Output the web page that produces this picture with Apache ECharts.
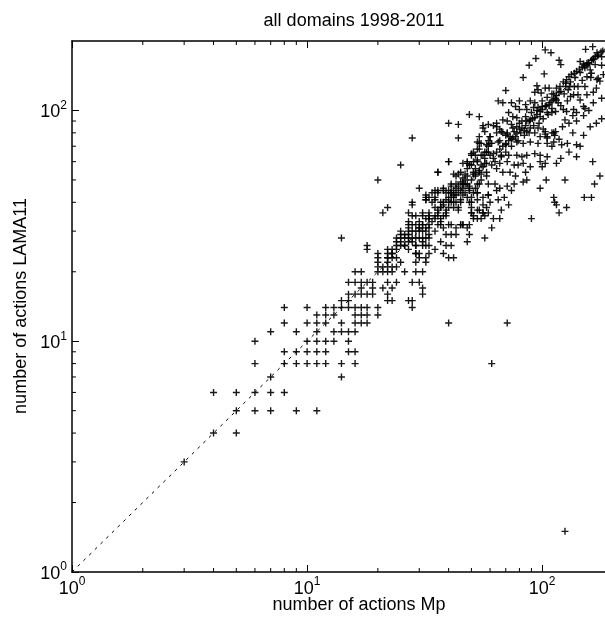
<!DOCTYPE html>
<html>
<head>
<meta charset="utf-8">
<script src="https://cdn.jsdelivr.net/npm/echarts@6/dist/echarts.min.js"></script>
<style>
  html, body { margin: 0; padding: 0; background: #fff; }
  #chart { width: 605px; height: 619px; }
</style>
</head>
<body>
<div id="chart"></div>
<script>
// values: [actions Mp, actions LAMA11]
const lowPts = [
  [3,3],[4,4],[5,4],[4,6],[5,6],[6,6],[7,6],[8,6],[5,5],[6,5],[7,5],[9,5],[11,5],
  [7,7],[14,7],
  [6,8],[8,8],[9,8],[10,8],[11,8],[12,8],[14,8],[16,8],
  [8,9],[9,9],[10,9],[11,9],[12,9],[15,9],[16,9],
  [6,10],[10,10],[11,10],[12,10],[13,10],[15,10],
  [7,11],[9,11],[11,11],[13,11],[14,11],[15,11],[16,11],
  [8,12],[10,12],[11,12],[12,12],[14,12],[16,12],[17,12],[18,12],
  [11,13],[12,13],[13,13],[16,13],[17,13],[18,13],[20,13],
  [8,14],[10,14],[12,14],[13,14],[14,14],[15,14],[16,14],[17,14],[18,14],[20,14],[28,14],
  [14,15],[15,15],[22,15],[23,15],[27,15],[28,15],
  [15,16],[16,16],[17,16],[18,16],[19,16],[22,16],[31,16],
  [17,17],[19,17],[21,17],[23,17],[31,17],
  [15,18],[16,18],[17,18],[18,18],[19,18],[22,18],[24,18],[28,18],[30,18],
  [16,20],[17,20],[20,20],[21,20],[22,20],[23,20],[26,20],[29,20],[31,20],
  [20,21],[21,21],[22,21],[23,21],[24,21],
  [20,22],[22,22],[25,22],[29,22],[32,22],
  [20,23],[22,23],[23,23],
  [20,24],[22,24],[23,24],[29,24],[30,24],
  [18,25],[22,25],[23,25],[24,25],
  [18,26],[24,26],[26,26],[29,26],[31,26],[32,26],
  [14,28],[25,28],[27,28],[29,28],[31,28],[33,28],
  [25,30],[27,30],[30,30],[32,30],
  [27,32],[29,32],[31,32],[33,32]
];

const midPts = [
  [28,76],[25,58],[20,50],[22,38],[21,36],[32,43],[32,41],[28,40],[28,39],
  [25,29],[26,29],[27,29],[28,28],[24,28],[25,27],[27,27],[28,27],[24,27],[25,26],
  [26,26],[27,25],[29,26],[31,27],[32,28],[33,29],[30,31],[31,32],[32,34],[33,34],
  [36,35],[23,24],[22,23],[24,23],[30,23],[32,23],[33,24],
  [27,36],[28,35],[27,33],[28,32],[29,35],[31,36],[32,42],[33,42],[35,42],[36,44],
  [38,46],[39,44],[40,45],[40,42],[41,40],[40,38],[41,47],[43,52],[44,53],[46,48],
  [47,48],[45,45],[46,43],[50,42],[50,40],[51,44],[53,44],[56,42],[59,43],[50,38],
  [54,37],[56,36],[45,32],[46,32],[41,32],[40,32],[48,31],[49,29],[57,28],[48,27],
  [39,29],[41,29],[43,29],[37,27],[39,26],[41,26],[33,26],[35,25],[38,24],[40,23],
  [42,23],[29,24],
  [33,34],[35,35],[36,36],[37,38],[38,39],[40,40],[41,44],[42,45],[44,47],[45,49],
  [46,51],[47,53],[48,56],[50,58],[51,60],[53,61],[55,64],[57,66],[59,70],[60,72],
  [53,73],[55,72],[59,74],[54,68],[58,66],[60,64],[50,64],[51,66],[53,68],
  [40,88],[44,87],[49,96],[54,94],[56,86],[44,76],[40,60],[36,54],[30,46],
  [48,59],[51,53],[34,44],[36,45],[34,40],[52,52],[55,53],[48,42],[50,36],[51,35],
  [57,35],[59,36],
  [30,28],[31,30],[33,31],[34,33],[35,30],[36,32],[37,33],[38,35],[39,36],[30,33],
  [29,30],[28,30],[27,31],[26,28],[35,38],[37,40],[39,41],[42,42],[43,40],[44,38],
  [42,43],[44,44],[46,46],[48,48],[50,50],[52,53],[54,55],[56,57],[58,59],[43,46],
  [47,50],[52,56],[55,58],[57,62],[45,40],[47,44],[49,46],[53,48],[55,50],[58,52]
];

const upperPts = [
  [103,183],[109,178],[153,184],[164,189],[171,178],[181,181],[179,171],
  [94,168],[118,165],[88,157],[120,158],
  [145,163],[150,159],[155,157],[157,161],[162,165],[165,168],[168,171],[173,174],
  [102,144],[83,139],[176,134],[173,138],[70,122],
  [95,128],[96,123],[93,120],[99,119],[103,125],[107,125],
  [115,125],[119,127],[123,133],[127,136],[130,140],[133,143],[137,145],[140,148],
  [144,151],[148,154],[151,156],[155,160],
  [126,131],[131,127],[137,127],[142,127],[152,127],[162,145],[161,139],[171,136],
  [129,123],[136,117],[142,117],[145,111],[155,117],[165,108],[179,113],
  [114,113],[115,111],[117,108],[123,101],[127,99],[136,101],[140,98],[150,104],[152,102],
  [110,102],[114,99],[107,106],[103,104],[105,98],
  [80,110],[85,106],[89,110],[93,108],[86,101],[92,103],[96,103],[100,104],
  [65,110],[68,108],[74,108],[77,104],[80,101],
  [72,98],[75,94],[78,93],[82,90],[86,90],[89,91],[93,93],[98,94],
  [68,91],[71,90],[74,87],[78,85],[80,83],[84,82],[89,84],
  [64,85],[66,83],[68,80],[71,79],[73,77],[77,77],
  [59,87],[62,86],[64,88],[56,84],[54,77],[60,77],
  [96,84],[101,83],[103,79],[98,77],[105,76],[112,80],[114,81],
  [125,91],[179,92],[182,143],[179,157],
  [62,62],[64,66],[66,68],[68,70],[70,71],[72,74],[75,76],[78,80],[82,84],[85,86],
  [88,90],[91,92],[95,96],[98,99],[100,101],[104,105],[108,108],[112,112],
  [63,60],[67,64],[70,66],[74,70],[79,74],[84,78],[88,80],[92,86],[97,88],[101,92],
  [106,96],[110,98],[66,74],[70,78],[75,84],[80,88],[85,94],[90,98],[95,100],[100,110],
  [105,114],[110,118],
  [110,110],[115,116],[120,121],[126,127],[132,133],[138,139],[145,146],[152,153],
  [158,159],[165,166],[172,172],[178,179],
  [110,70],[118,75],[122,85],[130,88],[135,95],[140,90],[150,95],[158,100],[165,120],
  [170,125],[120,105],[128,110],[132,115],[112,118],[118,120],[124,118],[148,135],
  [155,140],[160,150],[168,158],[120,62],[130,66],[140,63],[150,78],[160,85],[170,88],
  [135,80],[128,72]
];

const rightPts = [
  [57,81],[60,77],[64,80],[67,81],[71,80],[76,81],[81,80],[86,81],[93,80],[103,81],[105,77],[110,80],[113,78],
  [54,72],[58,71],[61,72],[65,73],[70,72],[74,75],[78,73],[83,72],[89,73],[96,72],[105,72],[112,73],[121,71],[140,71],[145,70],
  [50,65],[52,64],[56,64],[59,66],[62,65],[67,63],[72,64],[78,64],[82,63],[86,64],[93,65],[98,64],[105,63],
  [46,59],[48,60],[49,58],[53,60],[57,59],[61,58],[66,59],[71,60],[76,58],[79,58],[83,59],[89,57],[98,60],[103,59],[115,59],[164,60],
  [40,60],[36,54],[42,53],[45,54],[48,52],[51,54],[54,54],[58,54],[64,56],[68,54],[73,54],[77,52],[85,54],[86,50],[100,57],[104,50],[125,50],[176,52],
  [41,48],[43,48],[46,48],[49,47],[52,46],[54,48],[59,48],[63,48],[66,46],[71,47],[76,48],[83,49],[98,46],[167,48],
  [35,45],[38,45],[41,44],[43,43],[49,45],[53,44],[59,43],[64,45],[65,41],[69,42],[74,45],[112,42],[113,40],[151,42],[162,42],
  [32,41],[35,41],[38,40],[41,42],[42,40],[45,41],[49,40],[53,41],[56,39],[60,40],[67,37],[72,39],[115,39],[127,38],
  [33,36],[36,37],[37,38],[39,37],[42,38],[44,37],[50,36],[53,37],[56,36],[58,38],[118,36],
  [31,35],[33,35],[35,34],[37,34],[39,35],[45,32],[49,32],[51,34],[53,34],[55,34],[62,34],[66,34],[90,34],
  [30,31],[32,31],[37,32],[38,31],[43,31],[46,32],[61,31]
];

const outlierPts = [[40,12],[71,12],[61,8],[125,1.5]];

const diagonal = [[1,1],[200,200]];
const xMinor = [2,3,4,5,6,7,8,9,20,30,40,50,60,70,80,90];
const yMinor = [2,3,4,5,6,7,8,9,20,30,40,50,60,70,80,90];

const titleText = 'all domains 1998-2011';
const xName = 'number of actions Mp';
const yName = 'number of actions LAMA11';

const font = 'Liberation Sans, Arial, sans-serif';
const chart = echarts.init(document.getElementById('chart'));

function powLabel(v) {
  const e = Math.log10(v);
  if (Math.abs(e - Math.round(e)) > 1e-6) return '';
  return '{b|10}{s|' + Math.round(e) + '}';
}
const labelRich = {
  b: { fontSize: 18, fontFamily: font, color: '#000', lineHeight: 22, verticalAlign: 'bottom' },
  s: { fontSize: 12, fontFamily: font, color: '#000', lineHeight: 12, verticalAlign: 'top' }
};

const plus = 'path://M2.8,0H4.2V2.8H7V4.2H4.2V7H2.8V4.2H0V2.8H2.8Z';

const minorData = xMinor.map(v => [v, 1, 0]).concat(yMinor.map(v => [1, v, 1]));

// the picture cuts the plot off at x ~ 185
const xMax = 185;

const option = {
  animation: false,
  backgroundColor: '#fff',
  grid: { left: 72, top: 41, right: 0, bottom: 47 },
  xAxis: [
    {
      type: 'log', logBase: 10, min: 1, max: xMax,
      axisLine: { lineStyle: { color: '#000', width: 1.5 } },
      axisTick: { inside: true, length: 7, lineStyle: { color: '#000' } },
      axisLabel: { formatter: powLabel, rich: labelRich, margin: 4, showMaxLabel: false },
      splitLine: { show: false }
    },
    {
      type: 'log', logBase: 10, min: 1, max: xMax, position: 'top',
      axisLine: { lineStyle: { color: '#000', width: 1.5 } },
      axisTick: { inside: true, length: 7, lineStyle: { color: '#000' } },
      axisLabel: { show: false },
      splitLine: { show: false }
    }
  ],
  yAxis: {
    type: 'log', logBase: 10, min: 1, max: 200,
    axisLine: { lineStyle: { color: '#000', width: 1.5 } },
    axisTick: { inside: true, length: 7, lineStyle: { color: '#000' } },
    axisLabel: { formatter: powLabel, rich: labelRich, margin: 5, showMaxLabel: false },
    splitLine: { show: false }
  },
  series: [
    {
      type: 'line',
      data: diagonal,
      showSymbol: false,
      silent: true,
      lineStyle: { color: '#000', width: 1, type: [3, 5] }
    },
    {
      type: 'scatter',
      data: lowPts.concat(midPts, upperPts, rightPts, outlierPts),
      symbol: plus,
      symbolSize: 7,
      itemStyle: { color: '#000', opacity: 0.9 }
    },
    {
      // minor ticks at 2..9 of each decade
      type: 'custom',
      data: minorData,
      clip: false,
      silent: true,
      renderItem: function (params, api) {
        const style = { stroke: '#000', lineWidth: 1 };
        if (api.value(2) === 0) {
          const p = api.coord([api.value(0), 1]);
          const q = api.coord([api.value(0), 200]);
          return {
            type: 'group',
            children: [
              { type: 'line', shape: { x1: p[0], y1: p[1], x2: p[0], y2: p[1] - 4 }, style: style },
              { type: 'line', shape: { x1: q[0], y1: q[1], x2: q[0], y2: q[1] + 4 }, style: style }
            ]
          };
        }
        const p = api.coord([1, api.value(1)]);
        return { type: 'line', shape: { x1: p[0], y1: p[1], x2: p[0] + 4, y2: p[1] }, style: style };
      }
    }
  ],
  graphic: [
    { type: 'text', x: 354, y: 21, style: { text: titleText, font: '18px ' + font, fill: '#000', textAlign: 'center', textVerticalAlign: 'middle' } },
    { type: 'text', x: 359, y: 605, style: { text: xName, font: '18px ' + font, fill: '#000', textAlign: 'center', textVerticalAlign: 'middle' } },
    { type: 'text', x: 21, y: 306, rotation: Math.PI / 2, style: { text: yName, font: '18px ' + font, fill: '#000', textAlign: 'center', textVerticalAlign: 'middle' } }
  ]
};
chart.setOption(option);
</script>
</body>
</html>
